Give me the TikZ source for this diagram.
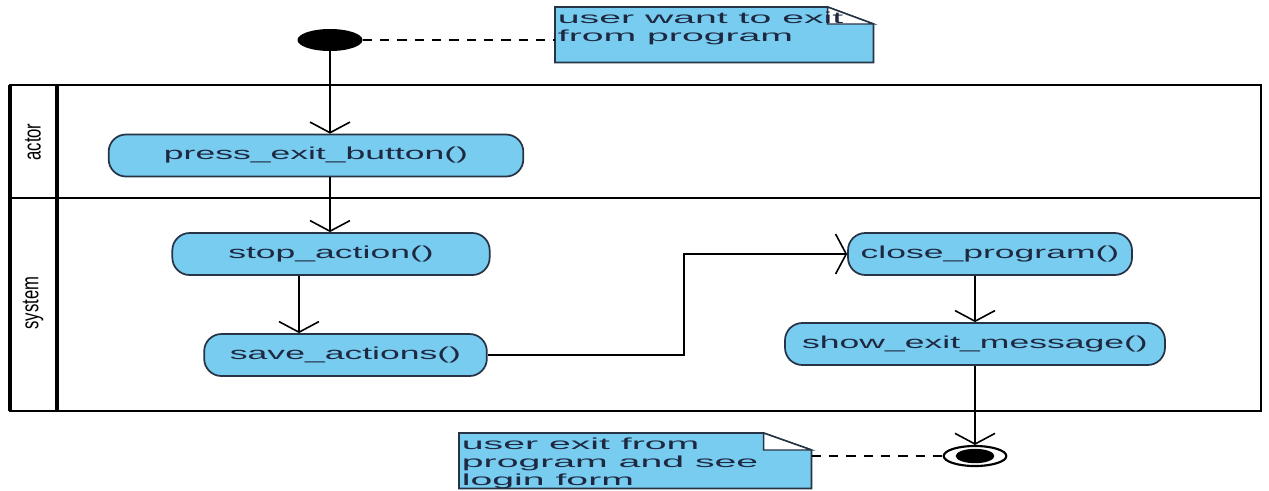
\documentclass[tikz,border=0pt]{standalone}
\usepackage{fontspec}
\setmainfont{Liberation Sans}
\usepackage{graphicx}
\usepackage{tikz}
\usetikzlibrary{arrows.meta,shapes.geometric,calc,backgrounds}
\definecolor{umlblue}{RGB}{120,204,240}
\definecolor{umledge}{RGB}{38,52,70}
\definecolor{umltext}{RGB}{30,40,64}
\newcommand{\stretchtext}[2]{\scalebox{#1}[1]{#2}}
\newcommand{\notetext}[3]{\parbox[c][#2][t]{#1}{\vspace{3pt}\hspace*{2pt}\scalebox{2.45}[1]{\begin{tabular}[t]{@{}l@{}}#3\end{tabular}}}}
\tikzstyle{lane} = [line width=1.6pt, draw=black]
\tikzstyle{lanelabel} = [rotate=90, inner sep=0pt, font=\fontsize{12.5}{14}\selectfont]
\tikzstyle{activity} = [rectangle, rounded corners=13pt, minimum height=31.5pt, inner sep=0pt, draw=umledge, fill=umlblue, line width=1.3pt, text=umltext, font=\fontsize{13}{15}\selectfont]
\tikzstyle{notebox} = [anchor=north west, inner sep=0pt, text=umltext, font=\fontsize{12}{13.5}\selectfont]
\tikzstyle{notepaper} = [draw=umledge, fill=umlblue, line width=1.3pt]
\tikzstyle{fold} = [draw=umledge, fill=white, line width=1.1pt]
\tikzstyle{flow} = [line width=1.2pt, -{Straight Barb[length=8pt,width=30pt]}]
\tikzstyle{link} = [line width=1.1pt, dash pattern=on 7pt off 6pt]

\begin{document}
\begin{tikzpicture}[x=0.75pt, y=-0.75pt]
\useasboundingbox (0,0) rectangle (1269,490);

% pool with two lanes
\draw[lane] (10,85) rectangle (1261,411);
\draw[lane] (10,198) -- (1261,198);
\draw[lane, line width=3pt] (10,85) -- (10,411);
\draw[lane, line width=3pt] (57,85) -- (57,411);
\node (actorlane) [lanelabel] at (33,142) {\scalebox{1}[1.45]{actor}};
\node (systemlane) [lanelabel] at (33,303) {\scalebox{1}[1.45]{system}};

% start / end
\node (start) [ellipse, fill=black, minimum width=48.75pt, minimum height=16.5pt, inner sep=0pt] at (330,40) {};
\node (finish) [ellipse, draw=black, fill=white, line width=1.6pt, minimum width=47pt, minimum height=15pt, inner sep=0pt,
  path picture={\fill[black] (path picture bounding box.center) ellipse [x radius=14.5pt, y radius=5.4pt];}] at (975,456) {};

% actions
\node (press) [activity, minimum width=311pt] at (316,155.5) {\stretchtext{2.05}{press\_exit\_button()}};
\node (stop) [activity, minimum width=238pt] at (331,254) {\stretchtext{2.05}{stop\_action()}};
\node (save) [activity, minimum width=212pt] at (345.5,355) {\stretchtext{2.05}{save\_actions()}};
\node (close) [activity, minimum width=213pt] at (990,254) {\stretchtext{2.05}{close\_program()}};
\node (show) [activity, minimum width=285pt] at (975,344) {\stretchtext{2.05}{show\_exit\_message()}};

% notes
\node (wantnote) [notebox] at (555,7) {\notetext{238.5pt}{41.25pt}{user want to exit\\from program}};
\node (seenote) [notebox] at (459,433) {\notetext{264pt}{41.25pt}{user exit from\\program and see\\login form}};
\begin{scope}[on background layer]
\filldraw[notepaper] (wantnote.south west) -- (wantnote.north west) -- ($(wantnote.north east)+(-46,0)$) -- ($(wantnote.north east)+(0,17)$) -- (wantnote.south east) -- cycle;
\filldraw[fold] ($(wantnote.north east)+(-46,0)$) -- ($(wantnote.north east)+(-46,17)$) -- ($(wantnote.north east)+(0,17)$) -- cycle;
\filldraw[notepaper] (seenote.south west) -- (seenote.north west) -- ($(seenote.north east)+(-48,0)$) -- ($(seenote.north east)+(0,17)$) -- (seenote.south east) -- cycle;
\filldraw[fold] ($(seenote.north east)+(-48,0)$) -- ($(seenote.north east)+(-48,17)$) -- ($(seenote.north east)+(0,17)$) -- cycle;
\end{scope}

% control flow
\coordinate (stopdrop) at (299,0);
\coordinate (jog) at (684,355);
\draw[flow] (start) -- (press.north -| start);
\draw[flow] (press.south -| start) -- (stop.north -| start);
\draw[flow] (stop.south -| stopdrop) -- (save.north -| stopdrop);
\draw[flow] (save.east) -- (jog) |- (close.west);
\draw[flow] (show.north |- close.south) -- (show.north);
\draw[flow] (show.south) -- (finish.north);
\draw[link] (start.east) -- (start.east -| wantnote.west);
\draw[link] (finish.west -| seenote.east) -- (finish.west);
\end{tikzpicture}
\end{document}
